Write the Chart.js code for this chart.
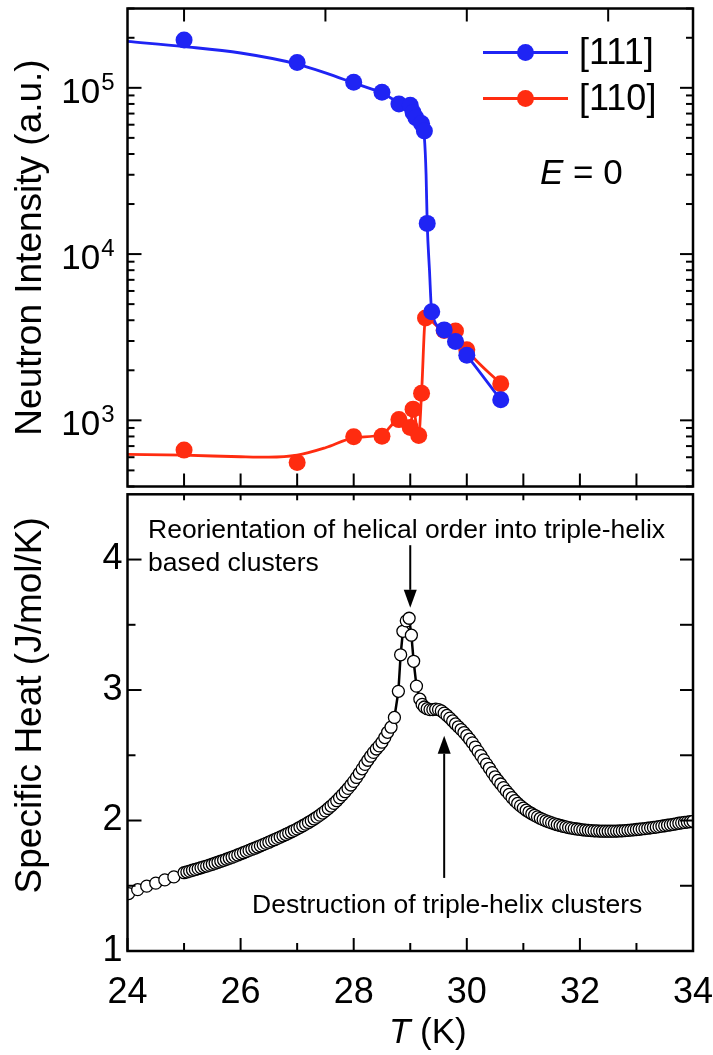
<!DOCTYPE html>
<html>
<head>
<meta charset="utf-8">
<script src="https://cdn.jsdelivr.net/npm/chart.js@4.4.1/dist/chart.umd.min.js"></script>
<style>
  html, body { margin: 0; padding: 0; background: #fff; }
  #wrap { position: relative; width: 713px; height: 1055px; overflow: hidden; background: #fff; }
  #topPanel { position: absolute; left: 0; top: 0; }
  #bottomPanel { position: absolute; left: 0; top: 487px; }
  canvas { display: block; }
</style>
</head>
<body>
<div id="wrap">
  <div id="topPanel"><canvas id="intensityChart" width="713" height="495"></canvas></div>
  <div id="bottomPanel"><canvas id="heatChart" width="713" height="568"></canvas></div>
</div>
<script>
// ---------- data ----------
// Neutron intensity markers, [111] reflection
const temps111 = [25.0, 27.0, 28.0, 28.5, 28.8, 29.0, 29.05, 29.1, 29.2, 29.25, 29.3, 29.38, 29.6, 29.8, 30.0, 30.6];
const intensity111 = [1.94e5, 1.42e5, 1.08e5, 9.4e4, 8.0e4, 7.85e4, 7.1e4, 6.6e4, 6.1e4, 5.5e4, 1.53e4, 4.5e3, 3.5e3, 2.98e3, 2.46e3, 1.33e3];
// Neutron intensity markers, [110] reflection
const temps110 = [25.0, 27.0, 28.0, 28.5, 28.8, 29.0, 29.05, 29.15, 29.2, 29.27, 29.6, 29.8, 30.0, 30.6];
const intensity110 = [662, 557, 796, 803, 1010, 905, 1168, 811, 1455, 4130, 3470, 3450, 2660, 1660];
// Guide-to-the-eye curves through the intensity data
const guideTemps111 = [24.0, 25.0, 26.0, 27.0, 27.5, 28.0, 28.5, 28.8, 29.0, 29.13, 29.2, 29.25, 29.28, 29.3, 29.34, 29.38, 29.6, 29.8, 30.0, 30.6];
const guideIntensity111 = [1.90e5, 1.77e5, 1.62e5, 1.39e5, 1.23e5, 1.07e5, 9.3e4, 8.15e4, 7.6e4, 6.8e4, 5.9e4, 5.0e4, 3.0e4, 1.53e4, 8.0e3, 4.5e3, 3.5e3, 2.98e3, 2.46e3, 1.33e3];
const guideTemps110 = [24.0, 25.0, 26.0, 26.5, 27.0, 27.5, 28.0, 28.5, 28.8, 29.0, 29.05, 29.15, 29.2, 29.27, 29.6, 29.8, 30.0, 30.6];
const guideIntensity110 = [625, 617, 604, 600, 617, 684, 785, 822, 1008, 905, 1168, 811, 1455, 4130, 3470, 3450, 2660, 1660];

// Specific heat (J/mol/K) versus temperature (K)
const heatTemps = [
  24.02, 24.18, 24.34, 24.50, 24.66, 24.82,
  25.00, 25.05, 25.10, 25.15, 25.20, 25.25, 25.30, 25.35, 25.40, 25.45,
  25.50, 25.55, 25.60, 25.65, 25.70, 25.75, 25.80, 25.85, 25.90, 25.95,
  26.00, 26.05, 26.10, 26.15, 26.20, 26.25, 26.30, 26.35, 26.40, 26.45,
  26.50, 26.55, 26.60, 26.65, 26.70, 26.75, 26.80, 26.85, 26.90, 26.95,
  27.00, 27.05, 27.10, 27.15, 27.20, 27.25, 27.30, 27.35, 27.40, 27.45,
  27.50, 27.55, 27.60, 27.65, 27.70, 27.75, 27.80, 27.85, 27.90, 27.95,
  28.00, 28.05, 28.10, 28.15, 28.20, 28.25, 28.30, 28.35, 28.40, 28.45,
  28.50, 28.55, 28.60, 28.66, 28.72,
  28.79, 28.83, 28.87, 28.93, 28.98, 29.02, 29.06, 29.11, 29.17, 29.21,
  29.25, 29.30, 29.35, 29.40, 29.45, 29.50, 29.55, 29.60, 29.65, 29.70,
  29.75, 29.80, 29.85, 29.90, 29.95, 30.00, 30.05, 30.10, 30.15, 30.20,
  30.25, 30.30, 30.35, 30.40, 30.45, 30.50, 30.55, 30.60, 30.65, 30.70,
  30.75, 30.80, 30.85, 30.90, 30.95, 31.00, 31.05, 31.10, 31.15, 31.20,
  31.25, 31.30, 31.35, 31.40, 31.45, 31.50, 31.55, 31.60, 31.65, 31.70,
  31.75, 31.80, 31.85, 31.90, 31.95, 32.00, 32.05, 32.10, 32.15, 32.20,
  32.25, 32.30, 32.35, 32.40, 32.45, 32.50, 32.55, 32.60, 32.65, 32.70,
  32.75, 32.80, 32.85, 32.90, 32.95, 33.00, 33.05, 33.10, 33.15, 33.20,
  33.25, 33.30, 33.35, 33.40, 33.45, 33.50, 33.55, 33.60, 33.65, 33.70,
  33.75, 33.80, 33.85, 33.90, 33.95, 34.00
];
const heatValues = [
  1.440, 1.470, 1.497, 1.520, 1.545, 1.568,
  1.600, 1.606, 1.612, 1.619, 1.625, 1.631, 1.638, 1.645, 1.651, 1.658,
  1.665, 1.673, 1.680, 1.688, 1.695, 1.703, 1.711, 1.719, 1.727, 1.736,
  1.745, 1.753, 1.762, 1.771, 1.780, 1.788, 1.797, 1.806, 1.815, 1.825,
  1.834, 1.844, 1.853, 1.863, 1.873, 1.883, 1.893, 1.904, 1.914, 1.925,
  1.936, 1.948, 1.960, 1.972, 1.985, 1.998, 2.012, 2.026, 2.041, 2.057,
  2.074, 2.092, 2.111, 2.131, 2.152, 2.174, 2.197, 2.221, 2.246, 2.272,
  2.300, 2.330, 2.362, 2.396, 2.430, 2.462, 2.493, 2.522, 2.548, 2.572,
  2.600, 2.636, 2.676, 2.715, 2.790,
  2.99, 3.27, 3.45, 3.53, 3.55, 3.42, 3.22, 3.03, 2.93, 2.89,
  2.870, 2.857, 2.850, 2.850, 2.853, 2.850, 2.840, 2.823, 2.805, 2.785,
  2.763, 2.740, 2.718, 2.697, 2.674, 2.650, 2.623, 2.595, 2.563, 2.530,
  2.498, 2.465, 2.432, 2.400, 2.367, 2.335, 2.307, 2.280, 2.252, 2.225,
  2.200, 2.175, 2.152, 2.131, 2.112, 2.095, 2.079, 2.065, 2.052, 2.040,
  2.028, 2.017, 2.007, 1.998, 1.990, 1.982, 1.975, 1.968, 1.962, 1.956,
  1.951, 1.946, 1.942, 1.938, 1.935, 1.932, 1.929, 1.927, 1.925, 1.923,
  1.921, 1.920, 1.919, 1.918, 1.918, 1.918, 1.918, 1.918, 1.919, 1.920,
  1.921, 1.923, 1.925, 1.927, 1.929, 1.931, 1.933, 1.936, 1.938, 1.941,
  1.944, 1.947, 1.950, 1.953, 1.957, 1.960, 1.964, 1.967, 1.971, 1.975,
  1.979, 1.982, 1.985, 1.988, 1.991, 1.994
];

// Axis ticks
const intensityMajorTicks = [1e3, 1e4, 1e5];
const intensityTickExponents = ['3', '4', '5'];
const intensityMinorTicks = [400, 500, 600, 700, 800, 900,
  2000, 3000, 4000, 5000, 6000, 7000, 8000, 9000,
  2e4, 3e4, 4e4, 5e4, 6e4, 7e4, 8e4, 9e4, 2e5, 3e5];
const tempUpperTicks = [25, 27.5, 30, 32.5];
const tempMiddleTicks = [25, 26, 27, 28, 29, 30, 31, 32, 33];
const tempMajorTicks = [24, 26, 28, 30, 32, 34];
const tempMinorTicks = [25, 27, 29, 31, 33];
const heatMajorTicks = [1, 2, 3, 4];
const heatMinorTicks = [1.5, 2.5, 3.5];
const heatRightTicks = [1.5, 2, 2.5, 3, 3.5, 4];

// Labels and notes
const seriesNames = ['[111]', '[110]'];
const noteReorientation = ['Reorientation of helical order into triple-helix', 'based clusters'];
const noteDestruction = 'Destruction of triple-helix clusters';

// ---------- styling ----------
const FONT = "'Liberation Sans', Arial, Helvetica, sans-serif";
const BLUE = '#1f24f4';
const RED = '#ff2c10';
const seriesColors = [BLUE, RED];

const pts = (xs, ys) => xs.map((x, i) => ({ x: x, y: ys[i] }));

// Frame with inward ticks on all four sides
const frameTicks = {
  id: 'frameTicks',
  afterDatasetsDraw(chart, args, o) {
    const { ctx, chartArea: a, scales } = chart;
    const xs = scales.x, ys = scales.y;
    ctx.save();
    ctx.strokeStyle = '#000';
    ctx.lineWidth = 2;
    const seg = (x1, y1, x2, y2) => { ctx.beginPath(); ctx.moveTo(x1, y1); ctx.lineTo(x2, y2); ctx.stroke(); };
    (o.top || []).forEach(([vals, len]) => vals.forEach(v => { const px = xs.getPixelForValue(v); seg(px, a.top, px, a.top + len); }));
    (o.bottom || []).forEach(([vals, len]) => vals.forEach(v => { const px = xs.getPixelForValue(v); seg(px, a.bottom, px, a.bottom - len); }));
    (o.left || []).forEach(([vals, len]) => vals.forEach(v => { const py = ys.getPixelForValue(v); seg(a.left, py, a.left + len, py); }));
    (o.right || []).forEach(([vals, len]) => vals.forEach(v => { const py = ys.getPixelForValue(v); seg(a.right, py, a.right - len, py); }));
    ctx.lineWidth = 2.5;
    ctx.strokeRect(a.left, a.top, a.right - a.left, a.bottom - a.top);
    ctx.restore();
  }
};

// Power-of-ten labels, legend and field note for the intensity panel
const intensityText = {
  id: 'intensityText',
  afterDraw(chart) {
    const { ctx, chartArea: a, scales: { y } } = chart;
    ctx.save();
    ctx.fillStyle = '#000';
    ctx.textBaseline = 'alphabetic';
    ctx.textAlign = 'left';
    intensityMajorTicks.forEach((v, i) => {
      const py = y.getPixelForValue(v);
      ctx.font = '35px ' + FONT;
      const wBase = ctx.measureText('10').width;
      ctx.font = '24px ' + FONT;
      const wExp = ctx.measureText(intensityTickExponents[i]).width;
      const right = a.left - 13;
      ctx.fillText(intensityTickExponents[i], right - wExp, py + 2);
      ctx.font = '35px ' + FONT;
      ctx.fillText('10', right - wExp - 1 - wBase, py + 15);
    });
    // legend: line with marker, then name
    seriesNames.forEach((name, i) => {
      const ry = a.top + 44 + i * 46;
      ctx.strokeStyle = seriesColors[i];
      ctx.lineWidth = 3;
      ctx.beginPath(); ctx.moveTo(a.right - 210, ry); ctx.lineTo(a.right - 125, ry); ctx.stroke();
      ctx.fillStyle = seriesColors[i];
      ctx.beginPath(); ctx.arc(a.right - 167.5, ry, 8.5, 0, Math.PI * 2); ctx.fill();
      ctx.fillStyle = '#000';
      ctx.font = '36px ' + FONT;
      ctx.textBaseline = 'middle';
      ctx.fillText(name, a.right - 114, ry + 2);
      ctx.textBaseline = 'alphabetic';
    });
    // E = 0
    ctx.font = 'italic 35px ' + FONT;
    const ex = a.right - 153, ey = a.top + 175;
    ctx.fillText('E', ex, ey);
    const wE = ctx.measureText('E').width;
    ctx.font = '35px ' + FONT;
    ctx.fillText(' = 0', ex + wE, ey);
    ctx.restore();
  }
};

function drawArrow(ctx, x, yTail, yTip) {
  const dir = yTip > yTail ? 1 : -1;
  const head = 18, half = 6.5;
  ctx.beginPath();
  ctx.moveTo(x, yTail);
  ctx.lineTo(x, yTip - dir * head);
  ctx.stroke();
  ctx.beginPath();
  ctx.moveTo(x, yTip);
  ctx.lineTo(x - half, yTip - dir * head);
  ctx.lineTo(x + half, yTip - dir * head);
  ctx.closePath();
  ctx.fill();
}

// Notes, arrows and axis titles for the specific-heat panel
const heatText = {
  id: 'heatText',
  afterDraw(chart) {
    const { ctx, chartArea: a, scales: { x, y } } = chart;
    ctx.save();
    ctx.fillStyle = '#000';
    ctx.strokeStyle = '#000';
    ctx.lineWidth = 2;
    ctx.textAlign = 'left';
    ctx.textBaseline = 'alphabetic';
    ctx.font = '26.5px ' + FONT;
    ctx.fillText(noteReorientation[0], 148, a.top + 44);
    ctx.fillText(noteReorientation[1], 148, a.top + 77);
    ctx.fillText(noteDestruction, 252, a.top + 419);
    drawArrow(ctx, x.getPixelForValue(29.0), y.getPixelForValue(4.11), y.getPixelForValue(3.63));
    drawArrow(ctx, x.getPixelForValue(29.6), y.getPixelForValue(1.56), y.getPixelForValue(2.65));
    // vertical axis title
    ctx.save();
    ctx.translate(31, a.top + 211);
    ctx.rotate(-Math.PI / 2);
    ctx.font = '37px ' + FONT;
    ctx.textAlign = 'center';
    ctx.textBaseline = 'middle';
    ctx.fillText('Specific Heat (J/mol/K)', 0, 0);
    ctx.restore();
    // horizontal axis title: italic T, upright unit
    const tx = 389, ty = a.bottom + 92;
    ctx.font = 'italic 35px ' + FONT;
    ctx.fillText('T', tx, ty);
    const wT = ctx.measureText('T').width;
    ctx.font = '35px ' + FONT;
    ctx.fillText(' (K)', tx + wT, ty);
    ctx.restore();
  }
};

// keep the plot frame fixed: no extra room for half-height/half-width labels
function fixAxis(size, horizontal) {
  return function (s) {
    if (horizontal) { s.height = size; } else { s.width = size; }
    s.paddingTop = 0; s.paddingBottom = 0; s.paddingLeft = 0; s.paddingRight = 0;
  };
}

// ---------- upper panel: neutron intensity ----------
new Chart(document.getElementById('intensityChart'), {
  type: 'line',
  data: {
    datasets: [
      { label: seriesNames[0], data: pts(temps111, intensity111), showLine: false,
        pointRadius: 8.5, pointHoverRadius: 8.5, pointBackgroundColor: BLUE, pointBorderWidth: 0, order: 1 },
      { label: seriesNames[1], data: pts(temps110, intensity110), showLine: false,
        pointRadius: 8.5, pointHoverRadius: 8.5, pointBackgroundColor: RED, pointBorderWidth: 0, order: 2 },
      { label: seriesNames[0] + ' guide', data: pts(guideTemps111, guideIntensity111), borderColor: BLUE,
        borderWidth: 2.8, pointRadius: 0, cubicInterpolationMode: 'monotone', fill: false, order: 3 },
      { label: seriesNames[1] + ' guide', data: pts(guideTemps110, guideIntensity110), borderColor: RED,
        borderWidth: 2.8, pointRadius: 0, cubicInterpolationMode: 'monotone', fill: false, order: 4 }
    ]
  },
  options: {
    responsive: false,
    animation: false,
    devicePixelRatio: 1,
    layout: { padding: { left: 0, right: 20, top: 8, bottom: 4 } },
    plugins: {
      legend: { display: false },
      tooltip: { enabled: false },
      frameTicks: {
        top: [[tempUpperTicks, 13]],
        bottom: [[tempMiddleTicks, 13]],
        left: [[intensityMajorTicks, 14], [intensityMinorTicks, 7]],
        right: [[intensityMajorTicks, 13], [intensityMinorTicks, 7]]
      }
    },
    scales: {
      x: { type: 'linear', min: 24, max: 34, display: false },
      y: {
        type: 'logarithmic', min: 400, max: 3e5, position: 'left',
        afterFit: fixAxis(127.5, false),
        ticks: { display: false },
        grid: { display: false, drawTicks: false },
        border: { display: false },
        title: { display: true, text: 'Neutron Intensity (a.u.)', color: '#000',
                 font: { family: FONT, size: 37 }, padding: { top: 9, bottom: 0 } }
      }
    }
  },
  plugins: [frameTicks, intensityText]
});

// ---------- lower panel: specific heat ----------
new Chart(document.getElementById('heatChart'), {
  type: 'line',
  data: {
    datasets: [
      { label: 'Specific heat', data: pts(heatTemps, heatValues), borderColor: '#000', borderWidth: 2.5,
        pointRadius: 6, pointHoverRadius: 6, pointBackgroundColor: '#fff', pointBorderColor: '#000',
        pointBorderWidth: 1.3, tension: 0, fill: false }
    ]
  },
  options: {
    responsive: false,
    animation: false,
    devicePixelRatio: 1,
    layout: { padding: { left: 0, right: 20, top: 4, bottom: 0 } },
    plugins: {
      legend: { display: false },
      tooltip: { enabled: false },
      frameTicks: {
        top: [[tempMiddleTicks, 6]],
        bottom: [[tempMajorTicks, 13], [tempMinorTicks, 8]],
        left: [[heatMajorTicks, 14], [heatMinorTicks, 8]],
        right: [[heatRightTicks, 13]]
      }
    },
    scales: {
      x: {
        type: 'linear', min: 24, max: 34, position: 'bottom',
        afterFit: fixAxis(104, true),
        afterBuildTicks(s) { s.ticks = tempMajorTicks.map(v => ({ value: v })); },
        ticks: { color: '#000', font: { family: FONT, size: 36 }, padding: 20, maxRotation: 0, autoSkip: false },
        grid: { display: false, drawTicks: false },
        border: { display: false }
      },
      y: {
        type: 'linear', min: 1, max: 4.5, position: 'left',
        afterFit: fixAxis(127.5, false),
        afterBuildTicks(s) { s.ticks = heatMajorTicks.map(v => ({ value: v })); },
        ticks: { color: '#000', font: { family: FONT, size: 36 }, padding: 5 },
        grid: { display: false, drawTicks: false },
        border: { display: false }
      }
    }
  },
  plugins: [frameTicks, heatText]
});
</script>
</body>
</html>
